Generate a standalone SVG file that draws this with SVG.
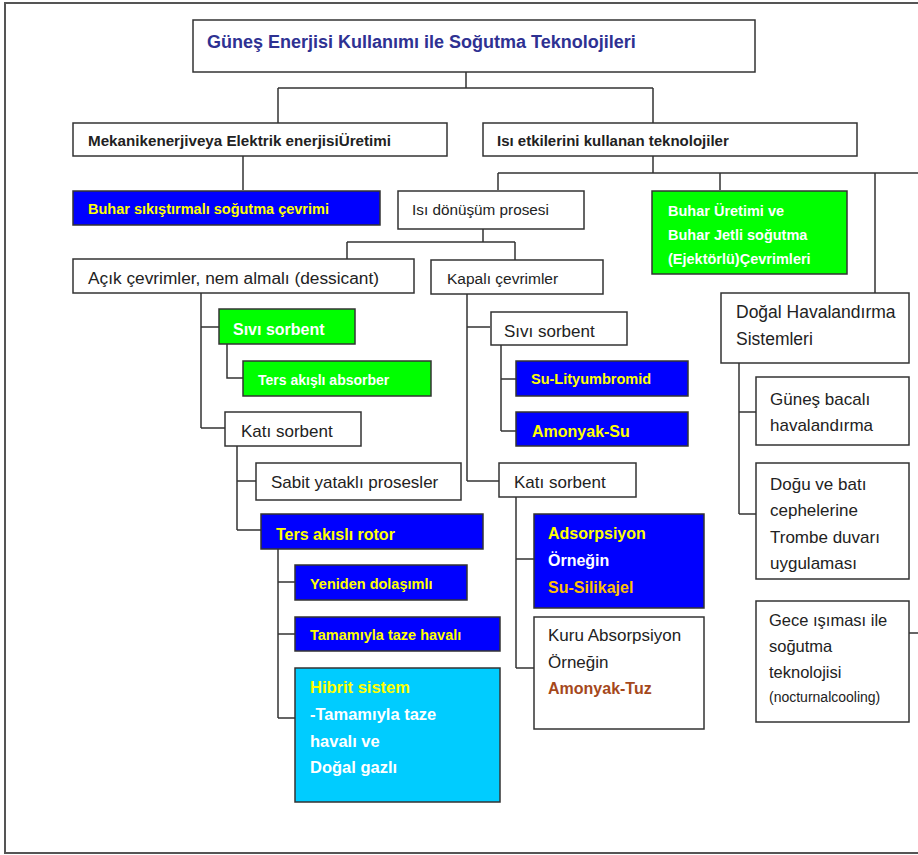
<svg xmlns="http://www.w3.org/2000/svg" width="918" height="855" viewBox="0 0 918 855">
<style>
.b{fill:#fff;stroke:#333;stroke-width:1.5}
.blue{fill:#0000FF;stroke:#333;stroke-width:1.5}
.green{fill:#00FF00;stroke:#333;stroke-width:1.5}
.cyan{fill:#00CCFF;stroke:#333;stroke-width:1.5}
text{font-family:"Liberation Sans",Arial,sans-serif;fill:#222}
.bd{font-weight:bold}
.y{fill:#FFFF00}
.w{fill:#FFFFFF}
.gold{fill:#FFC000}
.brown{fill:#A5481B}
#connectors path{fill:none;stroke:#333;stroke-width:1.5}
</style>
<rect x="0" y="0" width="918" height="855" fill="#fff"/>
<path d="M925 3 H5 V853 H925" fill="none" stroke="#555" stroke-width="2"/>
<g id="connectors">
<path d="M466 72 V88 M278 88 H653 M278 88 V123 M653 88 V123"/>
<path d="M243 156 V190"/>
<path d="M653 156 V173 M498 173 H918 M498 173 V190 M720 173 V190 M875 173 V293"/>
<path d="M483 229 V242 M347 242 H515 M347 242 V259 M515 242 V260"/>
<path d="M201 293 V428 M201 327 H219 M201 428 H225"/>
<path d="M227 344 V378 H243"/>
<path d="M237 446 V530 M237 481 H256 M237 530 H261"/>
<path d="M278 549 V718 M278 582 H295 M278 634 H295 M278 718 H295"/>
<path d="M467 293 V481 M467 327 H490 M467 481 H499"/>
<path d="M501 345 V431 M501 379 H516 M501 431 H516"/>
<path d="M516 497 V668 M516 559 H534 M516 668 H534"/>
<path d="M739 363 V514 M739 412 H756 M739 514 H756"/>
<path d="M909 633 H918"/>
</g>
<g id="title"><rect class="b" x="193" y="20" width="562" height="52"/><text x="207" y="48" class="bd" font-size="18" style="fill:#2E3192">Güneş Enerjisi Kullanımı ile Soğutma Teknolojileri</text></g>
<g id="mekanik"><rect class="b" x="73" y="123" width="374" height="33"/><text x="88" y="146" class="bd" font-size="15.2">Mekanikenerjiveya Elektrik enerjisiÜretimi</text></g>
<g id="isi-etkileri"><rect class="b" x="483" y="123" width="374" height="33"/><text x="497" y="146" class="bd" font-size="15">Isı etkilerini kullanan teknolojiler</text></g>
<g id="buhar-sikistirma"><rect class="blue" x="73" y="191" width="307" height="34"/><text x="88" y="214" class="bd y" font-size="14.5">Buhar sıkıştırmalı soğutma çevrimi</text></g>
<g id="isi-donusum"><rect class="b" x="398" y="191" width="186" height="38"/><text x="412" y="215" font-size="15.3">Isı dönüşüm prosesi</text></g>
<g id="buhar-jet"><rect class="green" x="652" y="191" width="195" height="83"/><text class="bd w" font-size="14.5"><tspan x="668" y="216">Buhar Üretimi ve</tspan><tspan x="668" y="240">Buhar Jetli soğutma</tspan><tspan x="668" y="264">(Ejektörlü)Çevrimleri</tspan></text></g>
<g id="acik"><rect class="b" x="73" y="259" width="341" height="34"/><text x="88" y="284" font-size="17.3">Açık çevrimler, nem almalı (dessicant)</text></g>
<g id="kapali"><rect class="b" x="431" y="260" width="172" height="34"/><text x="447" y="284" font-size="15.5">Kapalı çevrimler</text></g>
<g id="sivi-sol"><rect class="green" x="219" y="309" width="136" height="35"/><text x="233" y="335" class="bd w" font-size="16">Sıvı sorbent</text></g>
<g id="ters-absorber"><rect class="green" x="243" y="361" width="188" height="35"/><text x="258" y="385" class="bd w" font-size="14">Ters akışlı absorber</text></g>
<g id="kati-sol"><rect class="b" x="225" y="412" width="136" height="34"/><text x="241" y="437" font-size="17">Katı sorbent</text></g>
<g id="sabit"><rect class="b" x="256" y="463" width="205" height="37"/><text x="271" y="488" font-size="17">Sabit yataklı prosesler</text></g>
<g id="rotor"><rect class="blue" x="261" y="514" width="222" height="35"/><text x="276" y="540" class="bd y" font-size="16">Ters akıslı rotor</text></g>
<g id="yeniden"><rect class="blue" x="295" y="565" width="172" height="35"/><text x="310" y="589" class="bd y" font-size="14.5">Yeniden dolaşımlı</text></g>
<g id="tamamiyla"><rect class="blue" x="295" y="617" width="205" height="34"/><text x="310" y="640" class="bd y" font-size="14.5">Tamamıyla taze havalı</text></g>
<g id="hibrit"><rect class="cyan" x="295" y="668" width="205" height="134"/><text class="bd" font-size="16.5"><tspan x="310" y="693" class="y">Hibrit sistem</tspan><tspan x="310" y="720" class="w">-Tamamıyla taze</tspan><tspan x="310" y="747" class="w">havalı ve</tspan><tspan x="310" y="773" class="w">Doğal gazlı</tspan></text></g>
<g id="sivi-sag"><rect class="b" x="491" y="312" width="136" height="33"/><text x="504" y="337" font-size="17">Sıvı sorbent</text></g>
<g id="su-lityum"><rect class="blue" x="516" y="361" width="172" height="35"/><text x="531" y="384" class="bd y" font-size="14.5">Su-Lityumbromid</text></g>
<g id="amonyak-su"><rect class="blue" x="516" y="412" width="172" height="34"/><text x="532" y="437" class="bd y" font-size="16">Amonyak-Su</text></g>
<g id="kati-sag"><rect class="b" x="499" y="463" width="137" height="34"/><text x="514" y="488" font-size="17">Katı sorbent</text></g>
<g id="adsorpsiyon"><rect class="blue" x="534" y="514" width="170" height="94"/><text class="bd" font-size="16"><tspan x="548" y="539" class="y">Adsorpsiyon</tspan><tspan x="548" y="566" class="w">Örneğin</tspan><tspan x="548" y="593" class="gold">Su-Silikajel</tspan></text></g>
<g id="kuru"><rect class="b" x="534" y="617" width="170" height="112"/><text font-size="17"><tspan x="548" y="641">Kuru Absorpsiyon</tspan><tspan x="548" y="668">Örneğin</tspan><tspan x="548" y="694" class="bd brown" font-size="16">Amonyak-Tuz</tspan></text></g>
<g id="dogal"><rect class="b" x="721" y="293" width="188" height="70"/><text font-size="17.5"><tspan x="736" y="318">Doğal Havalandırma</tspan><tspan x="736" y="345">Sistemleri</tspan></text></g>
<g id="gunes-baca"><rect class="b" x="756" y="377" width="153" height="68"/><text font-size="17"><tspan x="770" y="405">Güneş bacalı</tspan><tspan x="770" y="431">havalandırma</tspan></text></g>
<g id="trombe"><rect class="b" x="756" y="463" width="153" height="116"/><text font-size="17"><tspan x="770" y="490">Doğu ve batı</tspan><tspan x="770" y="516">cephelerine</tspan><tspan x="770" y="543">Trombe duvarı</tspan><tspan x="770" y="569">uygulaması</tspan></text></g>
<g id="gece"><rect class="b" x="756" y="601" width="153" height="121"/><text font-size="16.5"><tspan x="769" y="626">Gece ışıması ile</tspan><tspan x="769" y="652">soğutma</tspan><tspan x="769" y="678">teknolojisi</tspan><tspan x="769" y="702" font-size="14">(nocturnalcooling)</tspan></text></g>
</svg>
